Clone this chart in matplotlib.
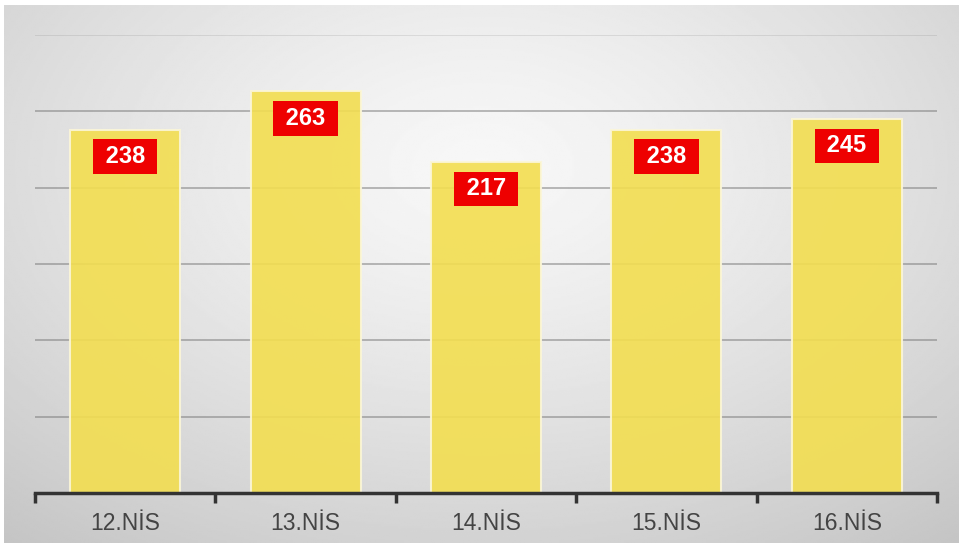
import numpy as np
import matplotlib.pyplot as plt

days = ['12.NİS', '13.NİS', '14.NİS', '15.NİS', '16.NİS']
counts = [238, 263, 217, 238, 245]

plt.rcParams['font.family'] = ['Liberation Sans', 'DejaVu Sans']

W, H = 963, 548
fig = plt.figure(figsize=(W / 100, H / 100), dpi=100, facecolor='white')

# radial grey background panel
bg = fig.add_axes([4 / W, 5 / H, 954 / W, 538 / H])
yy, xx = np.mgrid[0:1:300j, 0:1:500j]
r = np.sqrt(((xx - 0.5) / 0.75) ** 2 + ((yy - 0.3) / 0.85) ** 2)
r = np.clip(r / r.max(), 0, 1)
shade = 0.97 - 0.2 * r ** 1.3
bg.imshow(shade, cmap='gray', vmin=0, vmax=1, aspect='auto', extent=[0, 1, 1, 0])
bg.set_axis_off()

ax = fig.add_axes([35 / W, 55 / H, 902 / W, 458 / H])
ax.patch.set_alpha(0)
x = np.arange(len(days))
ax.set_xlim(-0.5, len(days) - 0.5)
ax.set_ylim(0, 300)

for v in range(50, 301, 50):
    ax.axhline(v, color='#7a7a7a', lw=1.3, alpha=0.55 if v < 300 else 0.2, zorder=1)

ax.bar(x, counts, width=0.61, color='#f3de50', alpha=0.9,
       edgecolor='#fbf6d8', linewidth=1.5, zorder=2)

for xi, v in zip(x, counts):
    ax.annotate(f' {v} ', (xi, v), xytext=(0, -27), textcoords='offset pixels',
                ha='center', va='center', color='white', fontsize=17,
                fontweight='bold', zorder=4,
                bbox=dict(boxstyle='square,pad=0.24', fc='#ee0000', ec='none'))

for s in ['top', 'right', 'left']:
    ax.spines[s].set_visible(False)
ax.spines['bottom'].set_color('#333333')
ax.spines['bottom'].set_linewidth(2.5)
ax.set_yticks([])
ax.set_xticks(np.arange(-0.5, len(days), 1.0))
ax.set_xticklabels([])
ax.set_xticks(x, minor=True)
ax.set_xticklabels(days, minor=True)
ax.tick_params(axis='x', which='major', length=7, width=2.5, color='#333333', direction='out')
ax.tick_params(axis='x', which='minor', length=0, pad=14, labelsize=16.5, labelcolor='#444444')

fig.savefig('out.png', dpi=100, facecolor='white')
